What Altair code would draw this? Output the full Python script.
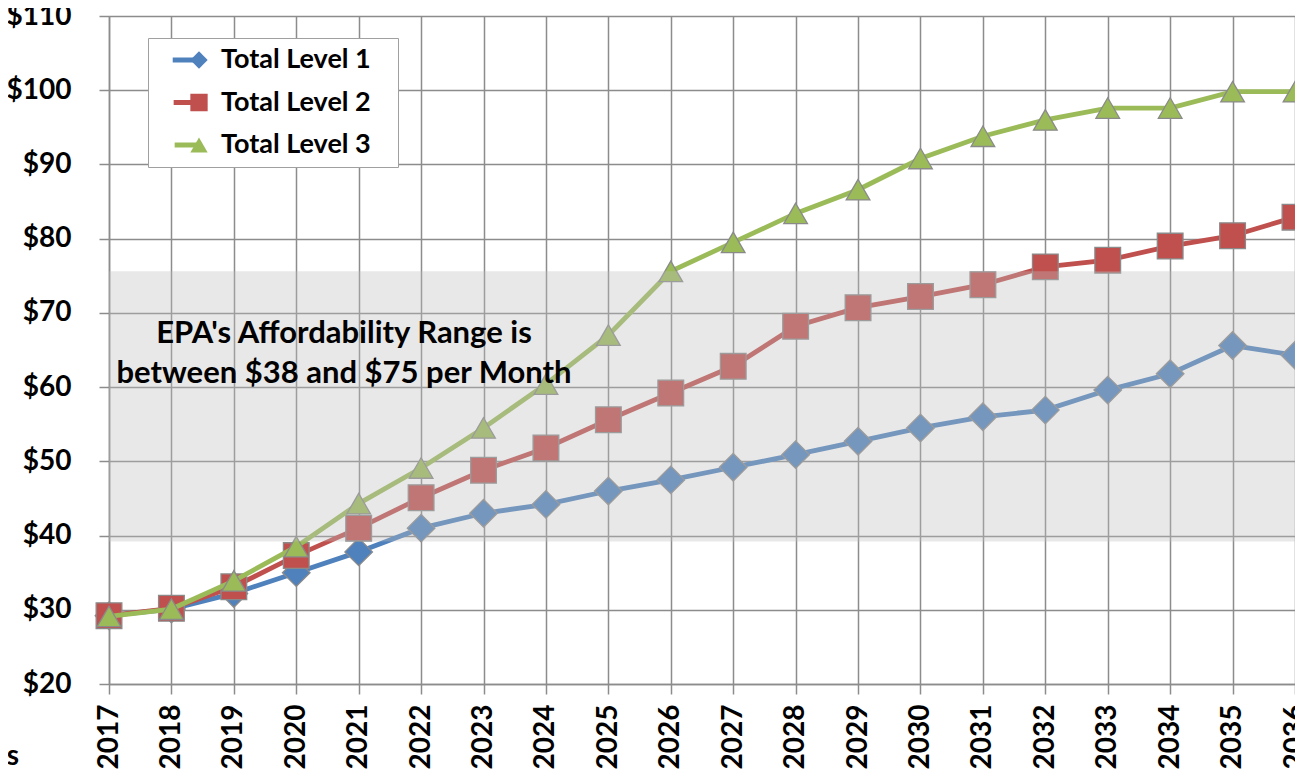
import altair as alt
import pandas as pd

# ---- data ----
years = [str(y) for y in range(2017, 2037)]
level1 = [29.2, 30.1, 32.2, 35.0, 37.8, 41.0, 43.0, 44.2, 46.0, 47.5,
          49.2, 50.9, 52.7, 54.5, 56.0, 56.9, 59.6, 61.8, 65.6, 64.3]
level2 = [29.2, 30.2, 33.1, 37.3, 41.0, 45.1, 48.8, 51.8, 55.6, 59.2,
          62.8, 68.2, 70.7, 72.2, 73.8, 76.2, 77.1, 79.0, 80.4, 82.9]
level3 = [29.1, 30.1, 33.9, 38.5, 44.3, 49.1, 54.5, 60.4, 67.0, 75.6,
          79.5, 83.4, 86.6, 90.8, 93.8, 96.0, 97.6, 97.6, 99.8, 99.8]
series_names = ["Total Level 1", "Total Level 2", "Total Level 3"]
colors = ["#4F81BD", "#C0504D", "#9BBB59"]
shapes = ["diamond", "square", "triangle-up"]
marker_sizes = [760, 560, 560]
y_ticks = [20, 30, 40, 50, 60, 70, 80, 90, 100, 110]
band_low = [39.2]
band_high = [75.6]
band_from = ["2017"]
band_to = ["2036"]
note_lines = ["EPA's Affordability Range is", "between $38 and $75 per Month"]
fragment = ["es"]

rows = []
for name, vals in zip(series_names, [level1, level2, level3]):
    for yr, v in zip(years, vals):
        rows.append({"year": yr, "value": v, "series": name})
df = pd.DataFrame(rows)
band_df = pd.DataFrame({"x0": band_from, "x1": band_to, "lo": band_low, "hi": band_high})

FONT = "Lato"
GRID = "#8c8c8c"

x_enc = alt.X("year:O", sort=years,
              scale=alt.Scale(type="point", padding=0),
              axis=alt.Axis(title=None, labelAngle=-90, labelFont=FONT, labelFontWeight="bold",
                            labelFontSize=28, labelColor="black", labelPadding=10,
                            tickSize=10, tickColor=GRID, tickWidth=1.5,
                            domainColor=GRID, domainWidth=1.5,
                            grid=True, gridColor=GRID, gridWidth=1.5))
y_enc = alt.Y("value:Q",
              scale=alt.Scale(domain=[20, 110], nice=False, zero=False),
              axis=alt.Axis(title=None, values=y_ticks, labelExpr="'$' + datum.value",
                            labelFont=FONT, labelFontWeight="bold", labelFontSize=28,
                            labelColor="black", labelPadding=28,
                            tickSize=10, tickColor=GRID, tickWidth=1.5,
                            domainColor=GRID, domainWidth=1.5,
                            grid=True, gridColor=GRID, gridWidth=1.5))

legend_common = dict(orient="none", legendX=39, legendY=22, title=None,
                     labelFont=FONT, labelFontWeight="bold", labelFontSize=27,
                     labelColor="black", labelLimit=400,
                     padding=7, rowPadding=12.5, clipHeight=30)

line_legend = alt.Legend(symbolType="stroke", symbolSize=2400, symbolStrokeWidth=5,
                         symbolOffset=15, labelOffset=18,
                         labelExpr="datum.label + '\u2800'",
                         fillColor="white", strokeColor="#a0a0a0", **legend_common)
marker_legend = alt.Legend(symbolSize=300, symbolOffset=30.5, labelOffset=4,
                           labelExpr="''", symbolStrokeColor="#8a8a8a",
                           symbolStrokeWidth=1.2, **legend_common)

color_scale = alt.Scale(domain=series_names, range=colors)
fill_scale = alt.Scale(range=colors)
shape_scale = alt.Scale(range=shapes)
size_scale = alt.Scale(domain=series_names, range=marker_sizes)

base = alt.Chart(df)
layers = []
for name in series_names:
    sub = base.transform_filter(alt.datum.series == name)
    layers.append(
        sub.mark_line(strokeWidth=4.8).encode(
            x=x_enc, y=y_enc,
            color=alt.Color("series:N", scale=color_scale, legend=line_legend))
    )
    layers.append(
        sub.mark_point(filled=True, opacity=1, stroke="#8a8a8a", strokeWidth=1.3).encode(
            x=x_enc, y=y_enc,
            fill=alt.Fill("series:N", scale=fill_scale, legend=marker_legend),
            shape=alt.Shape("series:N", scale=shape_scale, legend=marker_legend),
            size=alt.Size("series:N", scale=size_scale, legend=None))
    )

band = alt.Chart(band_df).mark_rect(fill="#bdbdbd", opacity=0.35).encode(
    x=alt.X("x0:O", sort=years), x2="x1", y="lo:Q", y2="hi:Q")

note = alt.Chart(pd.DataFrame({"t": ["\n".join(note_lines)]})).mark_text(
    font=FONT, fontWeight="bold", fontSize=31, color="black", align="center",
    baseline="alphabetic", lineBreak="\n", lineHeight=40
).encode(text="t:N", x=alt.value(235), y=alt.value(327))

frag = alt.Chart(pd.DataFrame({"t": fragment})).mark_text(
    font=FONT, fontWeight="bold", fontSize=28, color="black", align="right",
    baseline="alphabetic"
).encode(text="t:N", x=alt.value(-90), y=alt.value(749))

chart = alt.layer(*layers, band, note, frag).properties(
    width=1186, height=668,
    padding={"left": 101, "top": 8, "right": 0, "bottom": 93},
    autosize=alt.AutoSizeParams(type="none"),
).configure_view(stroke=None).configure(background="white")

chart.save("out.html", embed_options={"renderer": "svg", "actions": False})
